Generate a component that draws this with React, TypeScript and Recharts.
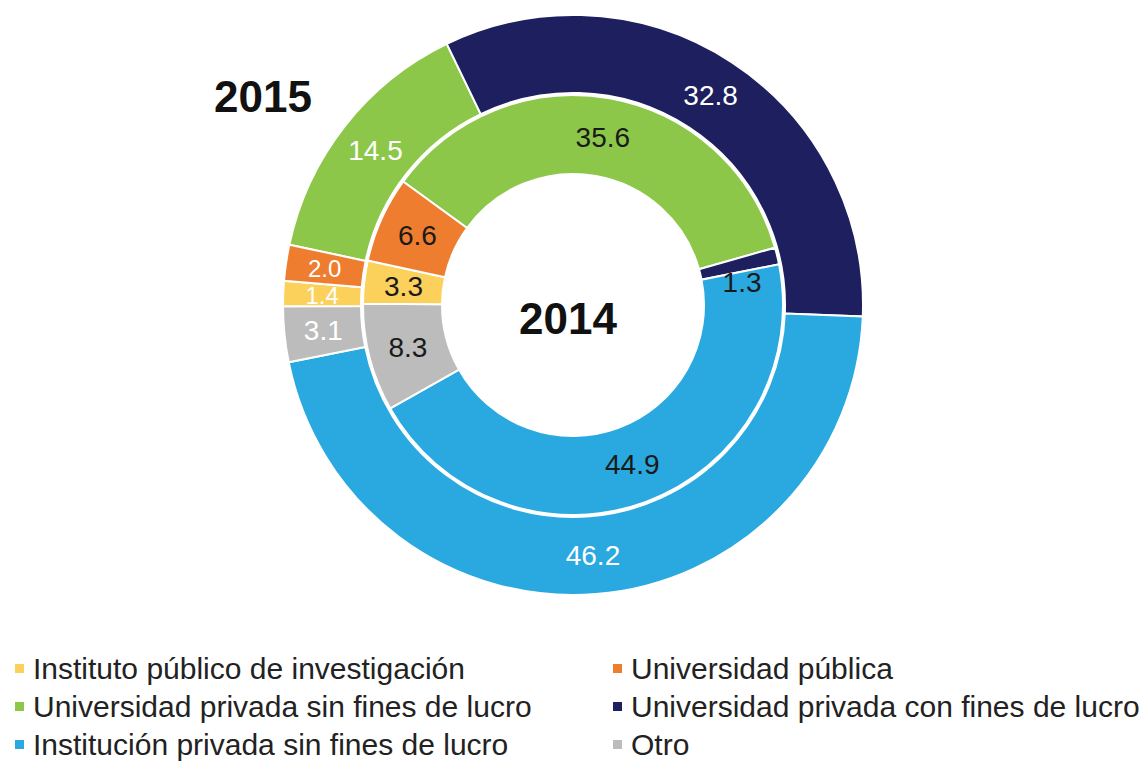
import { Cell, Pie, PieChart } from 'recharts'

// ring order (clockwise), shared by both years
const categories = [
  'Universidad privada sin fines de lucro',
  'Universidad privada con fines de lucro',
  'Institución privada sin fines de lucro',
  'Otro',
  'Instituto público de investigación',
  'Universidad pública',
]
const values2015 = [14.5, 32.8, 46.2, 3.1, 1.4, 2.0]
const values2014 = [35.6, 1.3, 44.9, 8.3, 3.3, 6.6]

// legend reads row by row, two columns
const legendOrder = [
  'Instituto público de investigación',
  'Universidad pública',
  'Universidad privada sin fines de lucro',
  'Universidad privada con fines de lucro',
  'Institución privada sin fines de lucro',
  'Otro',
]

const colors: Record<string, string> = {
  'Instituto público de investigación': '#fbd15c',
  'Universidad pública': '#ee7d2f',
  'Universidad privada sin fines de lucro': '#8dc74a',
  'Universidad privada con fines de lucro': '#1d1f5e',
  'Institución privada sin fines de lucro': '#2aa9e0',
  Otro: '#bcbcbc',
}

const FONT = '"Liberation Sans", Arial, Helvetica, sans-serif'
const RAD = Math.PI / 180

const outerData = categories.map((name, i) => ({ name, value: values2015[i] }))
const innerData = categories.map((name, i) => ({ name, value: values2014[i] }))

function makeLabel(fill: string) {
  return (p: any) => {
    const r = (p.innerRadius + p.outerRadius) / 2
    // the tiny 2014 slice: its number sits in the next slice, as in the print
    const shifted = p.percent < 0.0135
    const angle = shifted ? p.midAngle - 6 : p.midAngle
    const x = p.cx + r * Math.cos(-angle * RAD)
    const y = p.cy + r * Math.sin(-angle * RAD)
    // thin stacked 2015 slices get a slightly smaller number so they don't collide
    const size = !shifted && p.percent < 0.025 ? 24 : 28
    return (
      <text x={x} y={y} fill={fill} textAnchor="middle" dominantBaseline="central" fontSize={size} fontFamily={FONT}>
        {Number(p.value).toFixed(1)}
      </text>
    )
  }
}

export default function App() {
  return (
    <div style={{ position: 'absolute', left: 0, top: 0, width: 1147, height: 773, background: '#fff', fontFamily: FONT }}>
      <PieChart width={1147} height={640} margin={{ top: 0, right: 0, bottom: 0, left: 0 }}>
        <Pie
          data={outerData}
          dataKey="value"
          cx={573}
          cy={305}
          innerRadius={212}
          outerRadius={290}
          startAngle={168}
          endAngle={-192}
          stroke="#fff"
          strokeWidth={2}
          labelLine={false}
          label={makeLabel('#ffffff')}
          isAnimationActive={false}
        >
          {outerData.map((d) => (
            <Cell key={d.name} fill={colors[d.name]} />
          ))}
        </Pie>
        <Pie
          data={innerData}
          dataKey="value"
          cx={573}
          cy={305}
          innerRadius={131}
          outerRadius={210}
          startAngle={144}
          endAngle={-216}
          stroke="#fff"
          strokeWidth={2}
          labelLine={false}
          label={makeLabel('#1a1a1a')}
          isAnimationActive={false}
        >
          {innerData.map((d) => (
            <Cell key={d.name} fill={colors[d.name]} />
          ))}
        </Pie>
      </PieChart>

      <div style={{ position: 'absolute', left: 214, top: 72, fontSize: 44, fontWeight: 'bold', color: '#111' }}>2015</div>
      <div style={{ position: 'absolute', left: 519, top: 294, fontSize: 44, fontWeight: 'bold', color: '#111' }}>2014</div>

      <div
        style={{
          position: 'absolute',
          left: 15,
          top: 652,
          display: 'grid',
          gridTemplateColumns: '598px auto',
          rowGap: 5,
          fontSize: 30,
          color: '#222',
        }}
      >
        {legendOrder.map((name) => (
          <div key={name} style={{ display: 'flex', alignItems: 'center', height: 33, whiteSpace: 'nowrap' }}>
            <span style={{ width: 9, height: 9, background: colors[name], marginRight: 9, display: 'inline-block' }} />
            {name}
          </div>
        ))}
      </div>
    </div>
  )
}
